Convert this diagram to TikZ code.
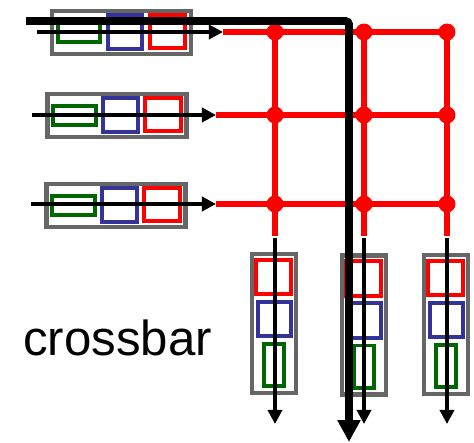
\documentclass[tikz,border=0pt]{standalone}
\usepackage{fontspec}
\setmainfont{Liberation Sans}
\usetikzlibrary{arrows.meta}

\definecolor{qred}{RGB}{255,0,0}
\definecolor{qblue}{RGB}{51,51,153}
\definecolor{qgreen}{RGB}{0,102,0}
\definecolor{qgray}{RGB}{102,102,102}

\begin{document}
\begin{tikzpicture}[x=0.02cm, y=-0.02cm, >={Triangle[length=8pt,width=8pt]},
    cell/.style={draw, inner sep=0pt, outer sep=0pt, line width=2pt},
    port/.style={draw=qgray, inner sep=0pt, outer sep=0pt, line width=2.3pt},
    hport/.style={port, minimum width=2.78cm, minimum height=0.87cm},
    vport/.style={port, minimum width=0.87cm, minimum height=2.78cm},
    wire/.style={qred, line width=3.4pt},
    joint/.style={circle, fill=qred, inner sep=0pt, minimum size=0.34cm},
    flow/.style={->, line width=2.6pt}]

    \useasboundingbox (0,0) rectangle (474,443);

    % input ports (rows)
    \foreach \i/\bx/\by/\sx/\tx/\yy in {1/121.5/32.5/37/223/32, 2/117/115.5/32/216/115, 3/116/205.5/31/216/204} {
        \node[hport] (in\i) at (\bx,\by) {};
        \node[cell, draw=qgreen, minimum width=0.85cm, minimum height=0.39cm] (in\i-g) at ([shift={(-42.5,0)}]in\i) {};
        \node[cell, draw=qblue, minimum width=0.69cm, minimum height=0.67cm] (in\i-b) at ([shift={(3.5,-0.5)}]in\i) {};
        \node[cell, draw=qred, minimum width=0.71cm, minimum height=0.67cm] (in\i-r) at ([shift={(46,-1)}]in\i) {};
        \coordinate (src\i) at (\sx,\yy);
        \coordinate (tip\i) at (\tx,\yy);
    }

    % output ports (columns)
    \foreach \j/\bx/\by/\xx in {1/274/323.5/275, 2/364/325/364, 3/446/324.5/447} {
        \node[vport] (out\j) at (\bx,\by) {};
        \node[cell, draw=qred, minimum width=0.69cm, minimum height=0.69cm] (out\j-r) at ([shift={(-0.5,-46.5)}]out\j) {};
        \node[cell, draw=qblue, minimum width=0.67cm, minimum height=0.69cm] (out\j-b) at ([shift={(0.5,-4.5)}]out\j) {};
        \node[cell, draw=qgreen, minimum width=0.39cm, minimum height=0.85cm] (out\j-g) at ([shift={(0,41.5)}]out\j) {};
        \coordinate (wbot\j) at (\xx,236);
        \coordinate (top\j) at (\xx,238);
        \coordinate (end\j) at (\xx,424);
    }

    % switch fabric
    \foreach \r/\yy in {1/32, 2/115, 3/204}
        \foreach \c/\xx in {1/275, 2/364, 3/447}
            \node[joint] (j\r\c) at (\xx,\yy) {};
    \foreach \r in {1,2,3}
        \draw[wire] (tip\r) -- (j\r3.center);
    \foreach \c in {1,2,3}
        \draw[wire] (j1\c.center) -- (wbot\c);

    % packet flows
    \foreach \i in {1,2,3}
        \draw[flow] (src\i) -- (tip\i);
    \foreach \j in {1,2,3}
        \draw[flow] (top\j) -- (end\j);

    \coordinate (hi) at (26,21);
    \coordinate (turn) at (349,21);
    \coordinate (lo) at (349,442);
    \draw[line width=4.5pt, rounded corners=2pt, -{Triangle[length=12.5pt,width=12.5pt]}]
        (hi) -- (turn) -- (lo);

    \node[anchor=base, font=\fontsize{28}{30}\selectfont, inner sep=0pt] (label) at (117.5,355) {crossbar};
\end{tikzpicture}
\end{document}
